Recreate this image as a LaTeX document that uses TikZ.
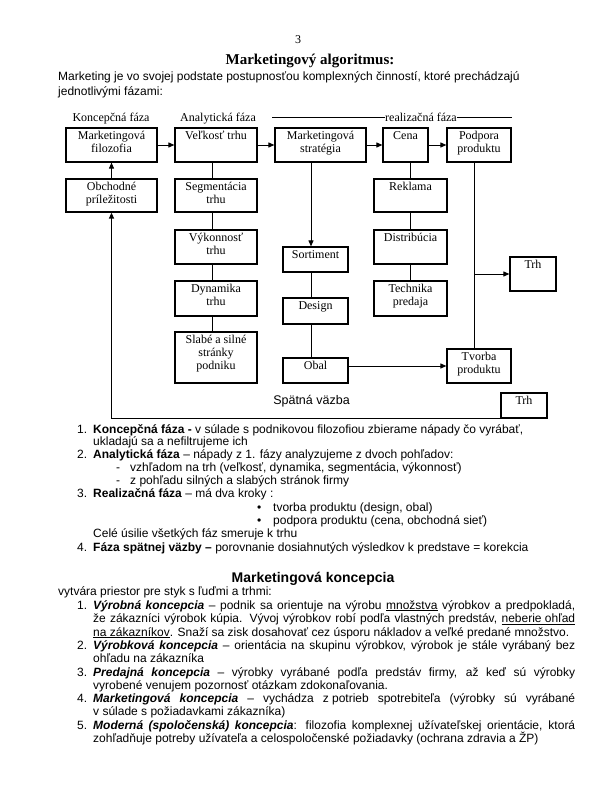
\documentclass[tikz,border=0pt]{standalone}
\usepackage{fontspec}
\setmainfont{Liberation Sans}
\newfontfamily\tnr{Liberation Serif}
\usetikzlibrary{arrows.meta}

\newcommand{\boxfont}{\tnr\fontsize{12}{13}\selectfont}
\newcommand{\bodyfont}{\fontsize{12}{13}\selectfont}
\newcommand{\jline}[1]{\makebox[482pt][s]{#1}}

\tikzset{
  bx/.style={draw, line width=1.2pt, inner sep=0pt},
  tx/.style={label={[anchor=north, align=center, inner sep=3.5pt, font=\boxfont]north:#1}},
  ln/.style={line width=1pt},
  arr/.style={line width=1pt, -{Triangle[length=6pt,width=5pt]}},
  txt/.style={anchor=base west, inner sep=0pt, font=\bodyfont},
  phase/.style={anchor=base, inner sep=0pt, font=\boxfont},
}

\begin{document}
\begin{tikzpicture}[x=1pt,y=-1pt]
  \fill[white] (0,0) rectangle (600,800);
  \useasboundingbox (0,0) rectangle (600,800);

  % page head
  \node[phase] (pagenum) at (298,44) {3};
  \node[anchor=base, inner sep=0pt, font=\tnr\fontsize{15}{17}\selectfont\bfseries] (title) at (310,65) {Marketingový algoritmus:};
  \node[txt] (intro1) at (58,81) {Marketing je vo svojej podstate postupnosťou komplexných činností, ktoré prechádzajú};
  \node[txt] (intro2) at (58,95) {jednotlivými fázami:};

  % phases
  \node[phase] (konc) at (111,121) {Koncepčná fáza};
  \node[phase] (analyt) at (218,121) {Analytická fáza};
  \node[phase] (real) at (421,121) {realizačná fáza};
  \coordinate (realL) at (272,117);
  \coordinate (realR) at (512,117);
  \draw[line width=0.5pt] (realL) -- (real.west |- realL);
  \draw[line width=0.5pt] (real.east |- realR) -- (realR);

  % boxes
  \node[bx, minimum width=91pt, minimum height=34pt, tx={Marketingová\\filozofia}] (filozofia) at (111.5,145) {};
  \node[bx, minimum width=82pt, minimum height=34pt, tx={Veľkosť trhu}] (velkost) at (216,145) {};
  \node[bx, minimum width=91pt, minimum height=34pt, tx={Marketingová\\stratégia}] (strategia) at (320.5,145) {};
  \node[bx, minimum width=45pt, minimum height=34pt, tx={Cena}] (cena) at (405.5,145) {};
  \node[bx, minimum width=64pt, minimum height=34pt, tx={Podpora\\produktu}] (podpora) at (479,145) {};
  \node[bx, minimum width=91pt, minimum height=33pt, tx={Obchodné\\príležitosti}] (obchodne) at (111.5,195.5) {};
  \node[bx, minimum width=82pt, minimum height=33pt, tx={Segmentácia\\trhu}] (segment) at (216,195.5) {};
  \node[bx, minimum width=73pt, minimum height=33pt, tx={Reklama}] (reklama) at (410.5,195.5) {};
  \node[bx, minimum width=82pt, minimum height=34pt, tx={Výkonnosť\\trhu}] (vykonnost) at (216,247) {};
  \node[bx, minimum width=73pt, minimum height=34pt, tx={Distribúcia}] (distribucia) at (410.5,247) {};
  \node[bx, minimum width=82pt, minimum height=35pt, tx={Dynamika\\trhu}] (dynamika) at (216,298.5) {};
  \node[bx, minimum width=73pt, minimum height=35pt, tx={Technika\\predaja}] (technika) at (410.5,298.5) {};
  \node[bx, minimum width=82pt, minimum height=51pt, tx={Slabé a silné\\stránky\\podniku}] (slabe) at (216,357.5) {};
  \node[bx, minimum width=65pt, minimum height=25pt, tx={Sortiment}] (sortiment) at (315.5,259.5) {};
  \node[bx, minimum width=65pt, minimum height=26pt, tx={Design}] (design) at (315.5,311) {};
  \node[bx, minimum width=65pt, minimum height=25pt, tx={Obal}] (obal) at (315.5,370.5) {};
  \node[bx, minimum width=46pt, minimum height=34pt, tx={Trh}] (trh) at (533,274) {};
  \node[bx, minimum width=64pt, minimum height=34pt, tx={Tvorba\\produktu}] (tvorba) at (479,366) {};
  \node[bx, minimum width=46pt, minimum height=25pt, tx={Trh}] (trhb) at (524,405.5) {};
  \node[anchor=base, inner sep=0pt, font=\fontsize{12.5}{14}\selectfont] (spatna) at (311.5,404.5) {Spätná väzba};

  % connectors
  \draw[arr] (filozofia) -- (velkost);
  \draw[arr] (velkost) -- (strategia);
  \draw[arr] (strategia) -- (cena);
  \draw[arr] (cena) -- (podpora);
  \draw[arr] (obchodne) -- (filozofia);
  \foreach \a/\b in {velkost/segment, segment/vykonnost, vykonnost/dynamika, dynamika/slabe}
    \draw[ln] ([xshift=-4pt]\a.south) -- ([xshift=-4pt]\b.north);
  \draw[arr] ([xshift=-4.5pt]sortiment.north |- strategia.south) -- ([xshift=-4.5pt]sortiment.north);
  \foreach \a/\b in {sortiment/design, design/obal}
    \draw[ln] ([xshift=-4.5pt]\a.south) -- ([xshift=-4.5pt]\b.north);
  \draw[ln] (cena.south -| reklama) -- (reklama) -- (distribucia) -- (technika);
  \draw[ln] ([xshift=-5pt]podpora.south) -- ([xshift=-5pt]tvorba.north);
  \draw[arr] ([xshift=-5pt]podpora.south |- trh) -- (trh);
  \draw[arr] (obal.east |- tvorba) -- (tvorba);
  \draw[arr, line width=1.3pt] (trhb.south west) -- (obchodne.south |- trhb.south west) -- (obchodne);

  % phases explained
  \node[txt] (p1a) at (93,433) {\llap{1.\hskip6pt}\textbf{Koncepčná fáza -} v súlade s podnikovou filozofiou zbierame nápady čo vyrábať,};
  \node[txt] (p1b) at (93,445.5) {ukladajú sa a nefiltrujeme ich};
  \node[txt] (p2a) at (93,458.5) {\llap{2.\hskip6pt}\textbf{Analytická fáza} – nápady z 1. fázy analyzujeme z dvoch pohľadov:};
  \node[txt] (p2b) at (130,471) {\llap{-\hskip10pt}vzhľadom na trh (veľkosť, dynamika, segmentácia, výkonnosť)};
  \node[txt] (p2c) at (130,484) {\llap{-\hskip10pt}z pohľadu silných a slabých stránok firmy};
  \node[txt] (p3a) at (93,497) {\llap{3.\hskip6pt}\textbf{Realizačná fáza} – má dva kroky :};
  \node[txt] (p3b) at (273,511) {\llap{\textbullet\hskip12pt}tvorba produktu (design, obal)};
  \node[txt] (p3c) at (273,524.5) {\llap{\textbullet\hskip12pt}podpora produktu (cena, obchodná sieť)};
  \node[txt] (p3d) at (93,537.5) {Celé úsilie všetkých fáz smeruje k trhu};
  \node[txt] (p4a) at (93,551) {\llap{4.\hskip6pt}\textbf{Fáza spätnej väzby –} porovnanie dosiahnutých výsledkov k predstave = korekcia};

  % concepts
  \node[anchor=base, inner sep=0pt, font=\fontsize{14}{16}\selectfont\bfseries] (title2) at (313,582) {Marketingová koncepcia};
  \node[txt] (k0) at (58,595) {vytvára priestor pre styk s ľuďmi a trhmi:};
  \node[txt] (k1a) at (93,609) {\llap{1.\hskip6pt}\jline{\textbf{\textit{Výrobná koncepcia}} – podnik sa orientuje na výrobu \underline{množstva} výrobkov a predpokladá,}};
  \node[txt] (k1b) at (93,622.5) {\jline{že zákazníci výrobok kúpia. Vývoj výrobkov robí podľa vlastných predstáv, \underline{neberie ohľad}}};
  \node[txt] (k1c) at (93,636) {\underline{na zákazníkov}. Snaží sa zisk dosahovať cez úsporu nákladov a veľké predané množstvo.};
  \node[txt] (k2a) at (93,649) {\llap{2.\hskip6pt}\jline{\textbf{\textit{Výrobková koncepcia}} – orientácia na skupinu výrobkov, výrobok je stále vyrábaný bez}};
  \node[txt] (k2b) at (93,662.5) {ohľadu na zákazníka};
  \node[txt] (k3a) at (93,676) {\llap{3.\hskip6pt}\jline{\textbf{\textit{Predajná koncepcia}} – výrobky vyrábané podľa predstáv firmy, až keď sú výrobky}};
  \node[txt] (k3b) at (93,689) {vyrobené venujem pozornosť otázkam zdokonaľovania.};
  \node[txt] (k4a) at (93,702.5) {\llap{4.\hskip6pt}\jline{\textbf{\textit{Marketingová koncepcia}} – vychádza z\hskip3.3pt potrieb spotrebiteľa (výrobky sú vyrábané}};
  \node[txt] (k4b) at (93,715.5) {v súlade s požiadavkami zákazníka)};
  \node[txt] (k5a) at (93,729) {\llap{5.\hskip6pt}\jline{\textbf{\textit{Moderná (spoločenská) koncepcia}}: filozofia komplexnej užívateľskej orientácie, ktorá}};
  \node[txt] (k5b) at (93,742) {zohľadňuje potreby užívateľa a celospoločenské požiadavky (ochrana zdravia a ŽP)};
\end{tikzpicture}
\end{document}
